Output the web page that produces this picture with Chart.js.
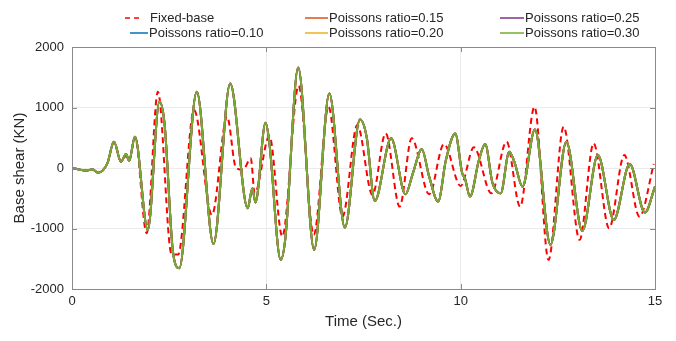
<!DOCTYPE html>
<html>
<head>
<meta charset="utf-8">
<script src="https://cdn.jsdelivr.net/npm/chart.js@4"></script>
<style>
  body { margin: 0; background: #fff; }
  #wrap { width: 676px; height: 341px; }
</style>
</head>
<body>
<div id="wrap"><canvas id="shearChart" width="676" height="341"></canvas></div>
<script>
// fixed-base response (red dashed)
const fixedTime = [0, 0.39, 0.52, 0.67, 0.91, 1.08, 1.26, 1.39, 1.47, 1.62, 1.92, 2.21, 2.56, 2.73,
  3.14, 3.6, 3.99, 4.22, 4.4, 4.6, 4.7, 5.08, 5.41, 5.83, 6.22, 6.6, 6.96, 7.34, 7.73, 8.07, 8.43,
  8.74, 9.19, 9.57, 10.0, 10.34, 10.79, 11.18, 11.53, 11.9, 12.26, 12.65, 13.06, 13.42, 13.82,
  14.21, 14.6, 14.97];
const fixedShear = [0, -44, -20, -77, 77, 435, 105, 200, 120, 517, -1078, 1260, -1420, -1430,
  957, -775, 847, 0, -30, 160, -418, 530, -1133, 1358, -1105, 1012, -803, 710, -445, 572, -638,
  490, -435, 396, -297, 341, -418, 435, -638, 1012, -1518, 682, -1188, 407, -995,
  215, -803, 66];

// SSI responses - the five poisson ratio curves lie on top of each other
const ssiTime = [0, 0.39, 0.52, 0.67, 0.91, 1.08, 1.26, 1.39, 1.47, 1.62, 1.95, 2.25, 2.38, 2.6,
  2.76, 3.21, 3.64, 4.07, 4.52, 4.64, 4.72, 4.98, 5.07, 5.37, 5.49, 5.82, 6.23, 6.62, 7.02, 7.41,
  7.58, 7.79, 8.21, 8.58, 8.77, 9.0, 9.19, 9.42, 9.62, 9.86, 10.04, 10.11, 10.24, 10.47, 10.63,
  10.82, 11.03, 11.25, 11.38, 11.59, 11.91, 12.31, 12.72, 13.13, 13.53, 13.94, 14.35, 14.74, 15.0];
const ssiShear = [0, -44, -20, -77, 77, 435, 105, 230, 120, 517, -1023, 1095, 737, -1400,
  -1655, 1260, -1254, 1397, -665, -335, -572, 748, 462, -1518, -1160, 1661, -1353, 1232, -985, 803,
  517, -545, 490, -435, -88, 308, -143, -555, 132, 572, -88, -170, -473, 132, 396,
  -253, -418, 270, 105, -308, 638, -1270, 435, -1040, 215, -858, 66, -737, -308];

const poissonRatios = ['0.10', '0.15', '0.20', '0.25', '0.30'];
const poissonColors = ['#0072BD', '#D95319', '#EDB120', '#7E2F8E', '#77AC30'];

const xTicks = [0, 5, 10, 15];
const yTicks = [-2000, -1000, 0, 1000, 2000];

const axisColor = '#8a8a8a';
const textColor = '#262626';
const fontFamily = '"Liberation Sans", Arial, Helvetica, sans-serif';

function toPoints(ts, vs) {
  return ts.map((t, i) => ({ x: t, y: vs[i] }));
}

const datasets = [{
  label: 'Fixed-base',
  data: toPoints(fixedTime, fixedShear),
  borderColor: '#ff0000',
  borderWidth: 2,
  borderDash: [6, 4],
  order: 6
}];
poissonRatios.forEach((r, i) => {
  datasets.push({
    label: 'Poissons ratio=' + r,
    data: toPoints(ssiTime, ssiShear),
    borderColor: poissonColors[i],
    borderWidth: 2,
    order: 5 - i
  });
});

// matlab style legend, 3 columns x 2 rows (ds index, line x0, line x1, y)
const legendItems = [
  { ds: 0, x0: 125, x1: 142, y: 18 },
  { ds: 1, x0: 130, x1: 148, y: 33 },
  { ds: 2, x0: 305, x1: 328, y: 18 },
  { ds: 3, x0: 305, x1: 328, y: 33 },
  { ds: 4, x0: 500, x1: 524, y: 18 },
  { ds: 5, x0: 500, x1: 524, y: 33 }
];

const boxPlugin = {
  id: 'boxPlugin',
  afterDraw(chart) {
    const ctx = chart.ctx;
    const a = chart.chartArea;
    const xs = chart.scales.x, ys = chart.scales.y;
    ctx.save();
    ctx.strokeStyle = axisColor;
    ctx.lineWidth = 1;
    ctx.strokeRect(a.left + 0.5, a.top + 0.5, a.right - a.left, a.bottom - a.top);
    ctx.beginPath();
    xTicks.forEach(t => {
      const px = Math.round(xs.getPixelForValue(t)) + 0.5;
      ctx.moveTo(px, a.bottom); ctx.lineTo(px, a.bottom - 5);
      ctx.moveTo(px, a.top); ctx.lineTo(px, a.top + 5);
    });
    yTicks.forEach(v => {
      const py = Math.round(ys.getPixelForValue(v)) + 0.5;
      ctx.moveTo(a.left, py); ctx.lineTo(a.left + 5, py);
      ctx.moveTo(a.right, py); ctx.lineTo(a.right - 5, py);
    });
    ctx.stroke();

    // legend
    ctx.font = '13px ' + fontFamily;
    ctx.textBaseline = 'middle';
    ctx.fillStyle = textColor;
    legendItems.forEach(item => {
      const ds = chart.data.datasets[item.ds];
      ctx.beginPath();
      ctx.strokeStyle = ds.borderColor;
      ctx.lineWidth = 1.5;
      ctx.setLineDash(ds.borderDash ? [5, 4] : []);
      ctx.moveTo(item.x0, item.y);
      ctx.lineTo(item.x1, item.y);
      ctx.stroke();
      ctx.setLineDash([]);
      ctx.fillText(ds.label, item.x1 + (ds.borderDash ? 8 : 1), item.y);
    });
    ctx.restore();
  }
};

new Chart(document.getElementById('shearChart'), {
  type: 'line',
  data: { datasets: datasets },
  options: {
    responsive: false,
    animation: false,
    layout: { padding: { top: 47, right: 21, left: 0, bottom: 0 } },
    elements: {
      point: { radius: 0 },
      line: { cubicInterpolationMode: 'monotone' }
    },
    plugins: {
      legend: { display: false },
      tooltip: { enabled: false }
    },
    scales: {
      x: {
        type: 'linear',
        min: 0,
        max: 15,
        afterBuildTicks: s => { s.ticks = xTicks.map(v => ({ value: v })); },
        afterFit: s => { s.height = 52; },
        ticks: { color: textColor, font: { size: 13, family: fontFamily }, padding: 5, maxRotation: 0,
          callback: v => String(v) },
        grid: { color: '#ebebeb', drawTicks: false },
        border: { color: axisColor },
        title: {
          display: true, text: 'Time (Sec.)', color: textColor,
          font: { size: 15, family: fontFamily }, padding: { top: 0, bottom: 10 }
        }
      },
      y: {
        min: -2000,
        max: 2000,
        afterBuildTicks: s => { s.ticks = yTicks.map(v => ({ value: v })); },
        afterFit: s => { s.width = 72; },
        ticks: { color: textColor, font: { size: 13, family: fontFamily }, padding: 8,
          callback: v => String(v) },
        grid: { color: '#ebebeb', drawTicks: false },
        border: { color: axisColor },
        title: {
          display: true, text: 'Base shear (KN)', color: textColor,
          font: { size: 15, family: fontFamily }, padding: { top: 11, bottom: 0 }
        }
      }
    }
  },
  plugins: [boxPlugin]
});
</script>
</body>
</html>
